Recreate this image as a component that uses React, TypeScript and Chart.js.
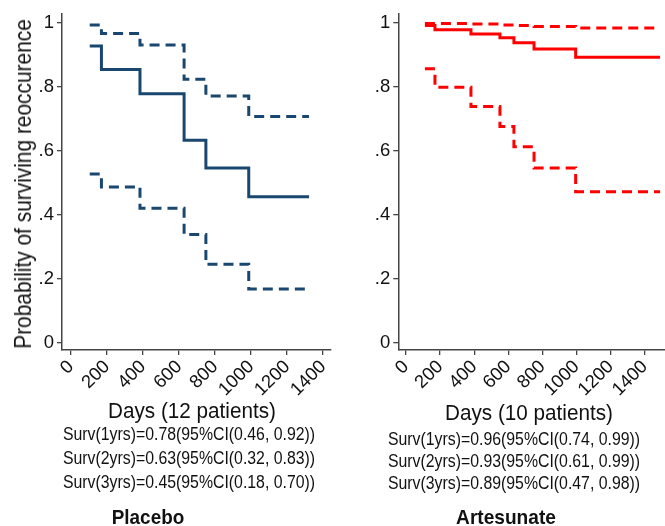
import React, { useEffect, useRef } from "react";
import { Chart, registerables } from "chart.js";

Chart.register(...registerables);

const FONT = "'Liberation Sans', Arial, sans-serif";

// ---- Data ----
const placeboDays = [104, 169, 383, 628, 749, 987, 1322];
const placeboSurv = [0.928, 0.855, 0.779, 0.634, 0.547, 0.457, 0.457];
const placeboUpper = [0.994, 0.967, 0.931, 0.824, 0.772, 0.708, 0.708];
const placeboLower = [0.528, 0.488, 0.421, 0.339, 0.246, 0.169, 0.169];

const artesunateDays = [111, 170, 381, 551, 633, 751, 995, 1490];
const artesunateSurv = [0.992, 0.979, 0.966, 0.954, 0.938, 0.919, 0.893, 0.893];
const artesunateUpper = [0.9985, 0.9985, 0.997, 0.994, 0.992, 0.989, 0.984, 0.984];
const artesunateLower = [0.857, 0.799, 0.739, 0.677, 0.613, 0.547, 0.473, 0.473];

const xTicks = [0, 200, 400, 600, 800, 1000, 1200, 1400];
const yTicks = [0, 0.2, 0.4, 0.6, 0.8, 1];
const yTickLabels = ["0", ".2", ".4", ".6", ".8", "1"];

const yAxisTitle = "Probability of surviving reoccurence";

const placeboXTitle = "Days (12 patients)";
const placeboSummary = [
  "Surv(1yrs)=0.78(95%CI(0.46, 0.92))",
  "Surv(2yrs)=0.63(95%CI(0.32, 0.83))",
  "Surv(3yrs)=0.45(95%CI(0.18, 0.70))",
];
const placeboName = "Placebo";

const artesunateXTitle = "Days (10 patients)";
const artesunateSummary = [
  "Surv(1yrs)=0.96(95%CI(0.74, 0.99))",
  "Surv(2yrs)=0.93(95%CI(0.61, 0.99))",
  "Surv(3yrs)=0.89(95%CI(0.47, 0.98))",
];
const artesunateName = "Artesunate";

const NAVY = "#1a476f";
const RED = "#ff0000";
const AXIS = "#444444";

type PanelProps = {
  days: number[];
  surv: number[];
  upper: number[];
  lower: number[];
  color: string;
  xMin: number;
  xMax: number;
  yAxisWidth: number;
  width: number;
  height: number;
  padRight: number;
};

function Panel(p: PanelProps) {
  const ref = useRef<HTMLCanvasElement | null>(null);
  useEffect(() => {
    if (!ref.current) return;
    const pts = (ys: number[]) => p.days.map((d, i) => ({ x: d, y: ys[i] }));
    const common = {
      borderColor: p.color,
      pointRadius: 0,
      stepped: true as const,
      fill: false,
      borderCapStyle: "butt" as const,
    };
    const chart = new Chart(ref.current, {
      type: "line",
      data: {
        datasets: [
          { ...common, data: pts(p.upper), borderWidth: 3, borderDash: [10, 6] },
          { ...common, data: pts(p.lower), borderWidth: 3, borderDash: [10, 6] },
          { ...common, data: pts(p.surv), borderWidth: 3 },
        ],
      },
      options: {
        animation: false,
        responsive: false,
        devicePixelRatio: 1,
        layout: { padding: { top: 10, right: p.padRight, left: 0, bottom: 0 } },
        plugins: { legend: { display: false }, tooltip: { enabled: false } },
        scales: {
          x: {
            type: "linear",
            min: p.xMin,
            max: p.xMax,
            afterBuildTicks: (axis: any) => {
              axis.ticks = xTicks.map((v) => ({ value: v }));
            },
            afterFit: (scale: any) => {
              scale.height = 50;
            },
            ticks: {
              autoSkip: false,
              minRotation: 45,
              maxRotation: 45,
              padding: 1,
              color: "#111",
              font: { family: FONT, size: 18.5 },
              callback: (v: any) => String(v),
            },
            grid: {
              drawOnChartArea: false,
              drawTicks: true,
              tickLength: 5,
              color: AXIS,
              lineWidth: 1.3,
            },
            border: { display: true, color: AXIS, width: 1.5 },
          },
          y: {
            type: "linear",
            min: -0.0216,
            max: 1.0278,
            afterBuildTicks: (axis: any) => {
              axis.ticks = yTicks.map((v) => ({ value: v }));
            },
            afterFit: (scale: any) => {
              scale.width = p.yAxisWidth;
            },
            ticks: {
              padding: 3,
              color: "#111",
              font: { family: FONT, size: 18.5 },
              callback: (v: any) => {
                const i = yTicks.findIndex((t) => Math.abs(t - Number(v)) < 1e-6);
                return i >= 0 ? yTickLabels[i] : "";
              },
            },
            grid: {
              drawOnChartArea: false,
              drawTicks: true,
              tickLength: 5,
              color: AXIS,
              lineWidth: 1.3,
            },
            border: { display: true, color: AXIS, width: 1.5 },
          },
        },
      },
    } as any);
    return () => chart.destroy();
  }, []);
  return (
    <canvas
      ref={ref}
      width={p.width}
      height={p.height}
      style={{ width: p.width, height: p.height, display: "block" }}
    />
  );
}

function CenterText(props: {
  cx: number;
  cy: number;
  text: string;
  size: number;
  bold?: boolean;
  scaleX?: number;
  rotate?: number;
}) {
  const w = 500;
  const rot = props.rotate ? `rotate(${props.rotate}deg) ` : "";
  return (
    <div
      style={{
        position: "absolute",
        left: props.cx - w / 2,
        top: props.cy - props.size / 2,
        width: w,
        height: props.size,
        lineHeight: `${props.size}px`,
        fontSize: props.size,
        fontFamily: FONT,
        fontWeight: props.bold ? "bold" : "normal",
        color: "#111",
        textAlign: "center",
        whiteSpace: "nowrap",
        transform: `${rot}scaleX(${props.scaleX ?? 1})`,
        transformOrigin: "50% 50%",
      }}
    >
      {props.text}
    </div>
  );
}

export default function App() {
  const leftSummaryY = [434, 458, 482];
  const rightSummaryY = [438.5, 461, 482.5];
  return (
    <div
      style={{
        position: "fixed",
        left: 0,
        top: 0,
        width: 665,
        height: 526,
        overflow: "hidden",
        background: "#fff",
      }}
    >
      <div style={{ position: "absolute", left: 0, top: 0 }}>
        <Panel
          days={placeboDays}
          surv={placeboSurv}
          upper={placeboUpper}
          lower={placeboLower}
          color={NAVY}
          xMin={-50}
          xMax={1440}
          yAxisWidth={62}
          width={340}
          height={400}
          padRight={7}
        />
      </div>
      <div style={{ position: "absolute", left: 340, top: 0 }}>
        <Panel
          days={artesunateDays}
          surv={artesunateSurv}
          upper={artesunateUpper}
          lower={artesunateLower}
          color={RED}
          xMin={-45}
          xMax={1560}
          yAxisWidth={58.3}
          width={340}
          height={400}
          padRight={8}
        />
      </div>
      <CenterText cx={23} cy={184} text={yAxisTitle} size={24} rotate={-90} scaleX={0.87} />

      <CenterText cx={192} cy={411} text={placeboXTitle} size={22} scaleX={0.94} />
      {placeboSummary.map((t, i) => (
        <CenterText key={"l" + i} cx={189} cy={leftSummaryY[i]} text={t} size={18} scaleX={0.88} />
      ))}
      <CenterText cx={148} cy={516} text={placeboName} size={21} bold scaleX={0.9} />

      <CenterText cx={529} cy={412.5} text={artesunateXTitle} size={22} scaleX={0.94} />
      {artesunateSummary.map((t, i) => (
        <CenterText key={"r" + i} cx={513.7} cy={rightSummaryY[i]} text={t} size={18} scaleX={0.88} />
      ))}
      <CenterText cx={505.5} cy={516} text={artesunateName} size={21} bold scaleX={0.91} />
    </div>
  );
}
